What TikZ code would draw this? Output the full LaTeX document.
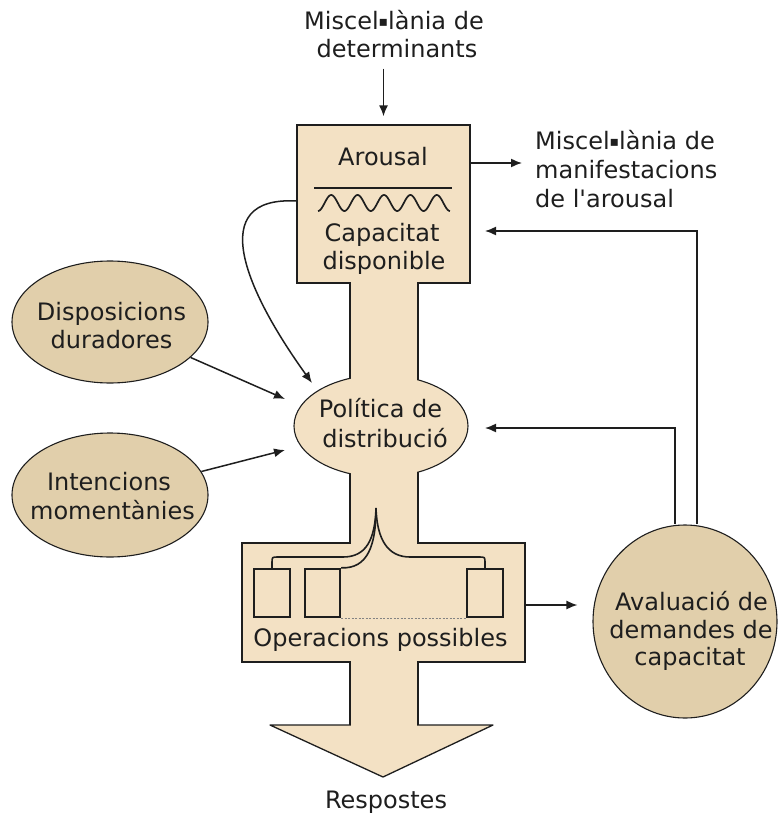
\documentclass[tikz,border=0pt]{standalone}
\usepackage{fontspec}
\setmainfont{DejaVu Sans}
\usetikzlibrary{arrows.meta,shapes.geometric}
\definecolor{sand}{HTML}{F3E1C4}
\definecolor{khaki}{HTML}{E1CFAB}
\definecolor{ink}{HTML}{1E1E1E}
% small square used as the Catalan middle dot
\newcommand{\lldot}{\raisebox{3pt}{\fontsize{14}{14}\selectfont ▪}}
\begin{document}
\begin{tikzpicture}[x=1pt,y=-1pt,
  lbl/.style={anchor=base,inner sep=0pt,font=\fontsize{24}{29}\selectfont,text=ink},
  lblw/.style={lbl,anchor=base west},
  outline/.style={draw=ink,line width=1.3pt},
  bubble/.style={ellipse,draw=ink,line width=1.1pt,fill=khaki,inner sep=0pt},
  arr/.style={draw=ink,line width=1.5pt,-{Latex[length=11pt,width=9pt]}},
  opslot/.style={rectangle,draw=ink,line width=2.4pt,fill=sand,inner sep=0pt,minimum height=48pt},
  fork/.style={draw=ink,line width=1.6pt,line join=round}
]
\useasboundingbox (0,0) rectangle (777,816);

% ---- main flow body: arousal box, stem, policy bulge, operations box, output arrow
\node[rectangle,outline,fill=sand,minimum width=173pt,minimum height=158pt,inner sep=0pt] (arousal) at (383.5,204) {};
\node[rectangle,outline,fill=sand,minimum width=283pt,minimum height=119pt,inner sep=0pt] (ops) at (383.5,602.5) {};
\filldraw[outline,fill=sand,line join=round] (270,725) -- (493,725) -- (383,777) -- cycle;

% stem joining the parts
\fill[sand] (350.7,278) rectangle (417.3,730);
\draw[outline] (350,283) -- (350,400) (418,283) -- (418,400)
  (350,450) -- (350,543) (418,450) -- (418,543)
  (350,662) -- (350,725) (418,662) -- (418,725);

\node[ellipse,outline,line width=1.1pt,fill=sand,minimum width=174pt,minimum height=102pt,inner sep=0pt] (politica) at (381,426) {};
\fill[sand] (350.7,366) rectangle (417.3,389);
\fill[sand] (350.7,463) rectangle (417.3,486);

% ---- arousal box contents
\node[lbl] (arousaltxt) at (383,165) {Arousal};
\draw[ink,line width=1.8pt] (314,188) -- (452,188);
\draw[ink,line width=1.7pt] plot[domain=0:5,samples=150,smooth] ({318+26.4*\x},{203+8*cos(360*\x)});
\node[lbl] (cap1) at (382,241) {Capacitat};
\node[lbl] (cap2) at (384,269) {disponible};

% ---- policy text
\node[lbl] (pol1) at (380.5,417) {Política de};
\node[lbl] (pol2) at (385,447) {distribució};

% ---- possible operations
\node[opslot,minimum width=36pt] (slot1) at (272,593) {};
\node[opslot,minimum width=35pt] (slot2) at (322.5,593) {};
\node[opslot,minimum width=36pt] (slot3) at (485,593) {};
\draw[ink!55,line width=1.2pt,dash pattern=on 2pt off 1.5pt] (slot2.south east) -- (slot3.south west);
\coordinate (forktip) at (376,508);
\draw[fork] (slot1.north) -- (272,563) .. controls (272,557) .. (278,557) -- (343,557)
  .. controls (366,557) and (375,540) .. (forktip);
\draw[fork] (slot2.north east) .. controls (368,569) and (376,545) .. (forktip);
\draw[fork] (forktip) .. controls (377,540) and (388,557) .. (410,557) -- (479,557)
  .. controls (485,557) .. (485,563) -- (slot3.north);
\node[lbl] (opstxt) at (380.5,646) {Operacions possibles};

% ---- outside labels
\node[lbl] (det1) at (394,30) {Miscel\lldot lània de};
\node[lbl] (det2) at (397,58) {determinants};
\node[lblw] (man1) at (535,149) {Miscel\lldot lània de};
\node[lblw] (man2) at (535,178) {manifestacions};
\node[lblw] (man3) at (535,207) {de l\textquotesingle arousal};
\node[lbl] (resp) at (386,808) {Respostes};

% ---- side bubbles
\node[bubble,minimum width=196pt,minimum height=122pt] (disp) at (110,322) {};
\node[lbl] (disp1) at (111.5,320) {Disposicions};
\node[lbl] (disp2) at (111.5,348) {duradores};
\node[bubble,minimum width=196pt,minimum height=124pt] (inten) at (110,495) {};
\node[lbl] (inten1) at (109,490) {Intencions};
\node[lbl] (inten2) at (112.5,519) {momentànies};
\node[bubble,minimum width=184pt,minimum height=193pt] (aval) at (685,621.5) {};
\node[lbl] (aval1) at (691.5,610) {Avaluació de};
\node[lbl] (aval2) at (691,638) {demandes de};
\node[lbl] (aval3) at (690,665) {capacitat};

% ---- connectors
\coordinate (in1) at (485,231);
\coordinate (in2) at (485,428);
\coordinate (in3) at (285,399);
\coordinate (in4) at (285,450);
\coordinate (in5) at (312,383);
\draw[arr,shorten <=10pt,shorten >=8pt] (arousal.north |- det2.south) -- (arousal.north);
\draw[arr,shorten >=13pt] ([yshift=41pt]arousal.east) -- ([yshift=41pt]arousal.east -| man1.west);
\draw[arr] ([yshift=3pt]arousal.west) .. controls (205,196) and (245,290) .. (in5);
\draw[arr] (disp) -- (in3);
\draw[arr] (inten) -- (in4);
\draw[arr,shorten >=15pt] ([yshift=-2.5pt]ops.east) -- ([yshift=-2.5pt]ops.east -| aval.west);
\draw[arr] ([xshift=12pt]aval.north) |- (in1);
\draw[arr] ([xshift=-10pt]aval.north) |- (in2);
\end{tikzpicture}
\end{document}
